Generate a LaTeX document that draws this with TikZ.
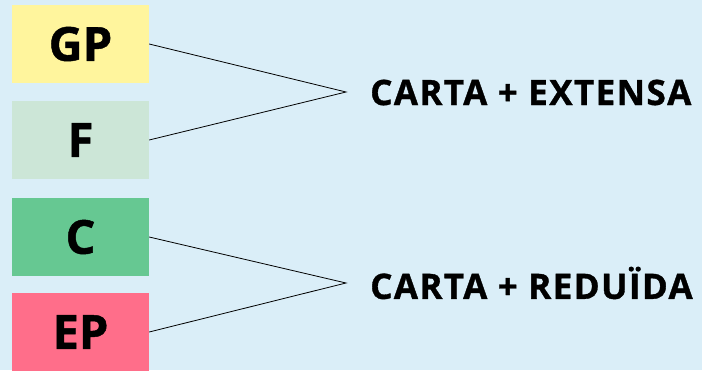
\documentclass[tikz,border=0pt]{standalone}
\usepackage{fontspec}
\setmainfont{Open Sans}[BoldFont=* Bold,BoldFeatures={FakeBold=1}]
\newfontfamily\resultfont{Open Sans Bold}[LetterSpace=4,FakeBold=1]
\definecolor{bg}{RGB}{218,238,248}
\definecolor{cyellow}{RGB}{255,245,157}
\definecolor{clgreen}{RGB}{204,230,215}
\definecolor{cgreen}{RGB}{102,200,146}
\definecolor{cpink}{RGB}{255,110,138}
\begin{document}
\begin{tikzpicture}[x=1pt,y=-1pt,
  catbox/.style={minimum width=137pt,minimum height=78pt,inner sep=0pt,font=\fontsize{47}{50}\selectfont\bfseries},
  result/.style={anchor=west,inner sep=0pt,font=\fontsize{35}{40}\resultfont},
  link/.style={draw=black,line width=0.8pt}]
\fill[bg] (0,0) rectangle (702,370);
\useasboundingbox (0,0) rectangle (702,370);
\node[catbox,fill=cyellow] (gp) at (80.5,44) {GP};
\node[catbox,fill=clgreen] (f) at (80.5,140) {F};
\node[catbox,fill=cgreen] (c) at (80.5,237) {C};
\node[catbox,fill=cpink] (ep) at (80.5,332) {EP};
\coordinate (j1) at (346,92);
\coordinate (j2) at (346,283);
\node[result] (r1) at (370,92.5) {CARTA + EXTENSA};
\node[result] (r2) at (370,283) {CARTA + REDUÏDA};
\draw[link] (gp.east) -- (j1) -- (f.east);
\draw[link] (c.east) -- (j2) -- (ep.east);
\end{tikzpicture}
\end{document}
